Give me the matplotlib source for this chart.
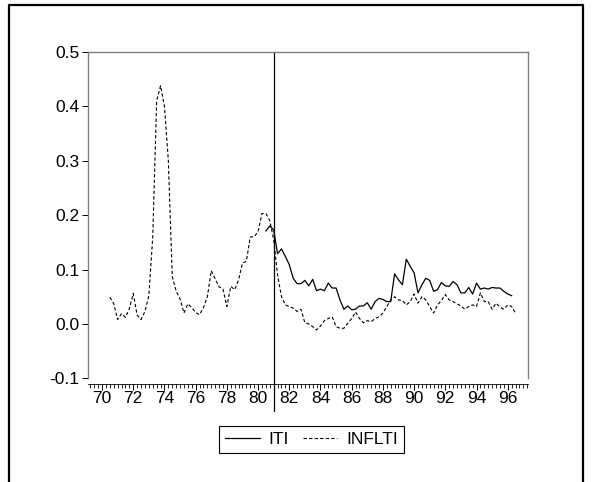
import numpy as np
import matplotlib
matplotlib.use("Agg")
import matplotlib.pyplot as plt
from matplotlib.ticker import MultipleLocator, FuncFormatter
from matplotlib.lines import Line2D

# quarterly series, INFLTI from 1970Q3, ITI from 1980Q3
inflti_start = 70.5
inflti = [0.049, 0.037, 0.008, 0.019, 0.012, 0.028, 0.056, 0.016, 0.008, 0.023,
          0.052, 0.160, 0.410, 0.438, 0.400, 0.300, 0.087, 0.060, 0.046, 0.020,
          0.037, 0.030, 0.021, 0.017, 0.030, 0.050, 0.098, 0.083, 0.068, 0.064,
          0.032, 0.069, 0.063, 0.081, 0.112, 0.115, 0.160, 0.160, 0.170, 0.203,
          0.203, 0.190, 0.155, 0.090, 0.050, 0.035, 0.032, 0.029, 0.023, 0.027,
          0.002, 0.000, -0.005, -0.011, -0.004, 0.006, 0.010, 0.013, -0.005, -0.008,
          -0.008, 0.001, 0.010, 0.022, 0.010, 0.002, 0.006, 0.004, 0.010, 0.013,
          0.020, 0.032, 0.044, 0.050, 0.044, 0.043, 0.035, 0.041, 0.055, 0.038,
          0.050, 0.044, 0.032, 0.020, 0.035, 0.043, 0.054, 0.044, 0.041, 0.037,
          0.033, 0.027, 0.032, 0.035, 0.032, 0.057, 0.041, 0.041, 0.027, 0.038,
          0.031, 0.027, 0.035, 0.032, 0.020]

iti_start = 80.5
iti = [0.171, 0.180, 0.173, 0.129, 0.138, 0.124, 0.109, 0.084, 0.074, 0.074,
       0.080, 0.070, 0.082, 0.061, 0.064, 0.061, 0.075, 0.066, 0.066, 0.044,
       0.027, 0.033, 0.026, 0.027, 0.033, 0.033, 0.039, 0.027, 0.041, 0.047,
       0.045, 0.041, 0.041, 0.092, 0.081, 0.072, 0.119, 0.106, 0.094, 0.057,
       0.072, 0.084, 0.080, 0.060, 0.063, 0.076, 0.070, 0.069, 0.078, 0.072,
       0.057, 0.057, 0.067, 0.055, 0.075, 0.064, 0.066, 0.064, 0.067, 0.066,
       0.066, 0.060, 0.055, 0.052]

break_date = 81.0


def main():
    plt.rcParams['font.family'] = ['Liberation Sans', 'DejaVu Sans']
    plt.rcParams['font.size'] = 12.5

    t_infl = inflti_start + 0.25 * np.arange(len(inflti))
    t_iti = iti_start + 0.25 * np.arange(len(iti))

    fig = plt.figure(figsize=(5.92, 4.82), dpi=100)
    ax = fig.add_axes([88 / 592, 1 - 378.3 / 482, 440 / 592, 326.3 / 482])

    ax.plot(t_iti, iti, color='black', lw=0.9, label='ITI')
    ax.plot(t_infl, inflti, color='black', lw=0.8, dashes=(3, 2), label='INFLTI')
    # break line runs down through the date axis
    ax.plot([break_date, break_date], [0.5, -0.16], color='black', lw=0.9, clip_on=False)

    ax.set_xlim(69.1, 97.3)
    ax.set_ylim(-0.1, 0.5)
    ax.xaxis.set_major_locator(MultipleLocator(2))
    ax.xaxis.set_minor_locator(MultipleLocator(0.25))
    ax.xaxis.set_major_formatter(FuncFormatter(lambda v, p: '%02d' % int(round(v))))
    ax.yaxis.set_major_locator(MultipleLocator(0.1))
    ax.yaxis.set_major_formatter(FuncFormatter(lambda v, p: '%.1f' % v))

    for s in ['top', 'right', 'left', 'bottom']:
        ax.spines[s].set_color('#808080')
        ax.spines[s].set_linewidth(1.0)
    ax.spines['bottom'].set_position(('outward', 4))
    ax.spines['bottom'].set_color('black')
    ax.spines['bottom'].set_linewidth(0.6)

    ax.tick_params(axis='x', which='major', length=4, width=0.7, pad=1, direction='out')
    ax.tick_params(axis='x', which='minor', length=3, width=0.6, direction='out')
    ax.tick_params(axis='y', length=4, width=0.7, pad=2, direction='out')

    leg = fig.legend(loc='center', bbox_to_anchor=(311.5 / 592, 1 - 439.5 / 482), ncol=2,
                     frameon=True, fancybox=False, edgecolor='black', framealpha=1,
                     handlelength=2.0, handletextpad=0.5, columnspacing=0.8, borderpad=0.35)
    leg.get_frame().set_linewidth(0.8)

    # outer frame, open at the bottom
    frame = Line2D([9 / 592, 9 / 592, 583 / 592, 583 / 592], [0.0, 1 - 5 / 482, 1 - 5 / 482, 0.0],
                   transform=fig.transFigure, color='black', lw=1.6)
    fig.add_artist(frame)

    fig.savefig('out.png', dpi=100)


if __name__ == "__main__":
    main()
